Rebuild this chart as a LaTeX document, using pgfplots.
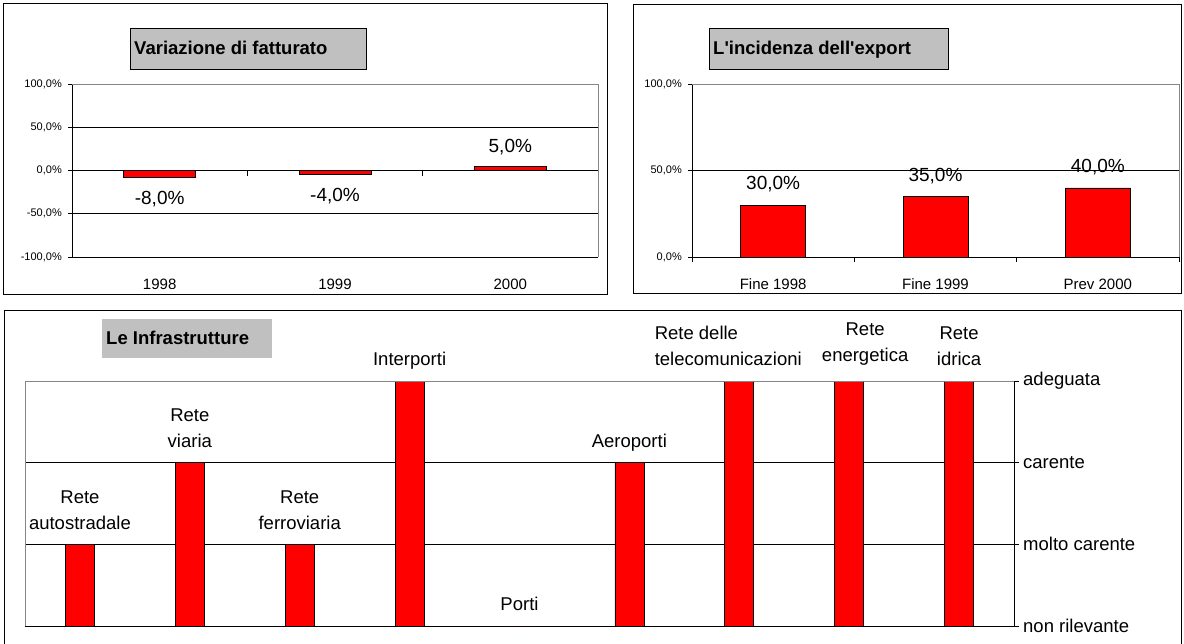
\documentclass[border=0pt]{standalone}
\usepackage{pgfplots}
\pgfplotsset{compat=1.18}
\usepackage{fontspec}
\setmainfont{Liberation Sans}
\definecolor{tgray}{RGB}{192,192,192}
\definecolor{bgray}{RGB}{134,134,134}
\newcommand\fs[1]{\fontsize{#1}{26}\selectfont}
\protected\def\lA{\begin{tabular}[b]{@{}c@{}}Rete\\autostradale\end{tabular}}
\protected\def\lB{\begin{tabular}[b]{@{}c@{}}Rete\\viaria\end{tabular}}
\protected\def\lC{\begin{tabular}[b]{@{}c@{}}Rete\\ferroviaria\end{tabular}}
\protected\def\lD{Interporti}
\protected\def\lE{Porti}
\protected\def\lF{Aeroporti}
\protected\def\lG{\begin{tabular}[b]{@{}l@{}}Rete delle\\telecomunicazioni\end{tabular}\hspace*{22pt}}
\protected\def\lH{\hspace*{32pt}\raisebox{4pt}{\begin{tabular}[b]{@{}c@{}}Rete\\energetica\end{tabular}}}
\protected\def\lI{\begin{tabular}[b]{@{}c@{}}Rete\\idrica\end{tabular}}
\pgfplotsset{
  common/.style={scale only axis, anchor=north west, clip=false, enlargelimits=false,
    ybar, bar shift=0pt,
    axis line style={black, line width=0.8pt},
    ymajorgrids, grid style={black, line width=0.8pt},
    tick style={black, line width=0.8pt},
  },
}
\begin{document}
\begin{tikzpicture}[x=1pt,y=1pt]
\useasboundingbox (0,0) rectangle (1184,-643);
% panel frames
\draw[line width=1pt] (3,-3) rectangle (607,-294);
\draw[line width=1pt] (633,-4) rectangle (1181,-293);
\draw[line width=1pt] (4,-310) rectangle (1181,-700);
% titles
\draw[fill=tgray, line width=0.8pt] (130,-28) rectangle (366,-69);
\node[anchor=base west, inner sep=0pt, font=\bfseries\fs{18.5}] at (134,-54) {Variazione di fatturato};
\draw[fill=tgray, line width=0.8pt] (709,-28) rectangle (948,-69);
\node[anchor=base west, inner sep=0pt, font=\bfseries\fs{18.5}] at (713,-54) {L\textquotesingle incidenza dell\textquotesingle export};
\fill[tgray] (102,-319) rectangle (272,-358);
\node[anchor=base west, inner sep=0pt, font=\bfseries\fs{18.5}] at (106,-344) {Le Infrastrutture};

% Panel 1
\begin{axis}[common, at={(72pt,-84pt)}, width=526pt, height=173pt,
  xmin=-0.5, xmax=2.5, ymin=-100, ymax=100,
  axis x line*=bottom, axis y line*=left,
  xtick={0,1,2}, xticklabels={1998,1999,2000}, major x tick style={draw=none},
  ytick={-100,-50,0,50,100},
  yticklabels={{-100,0\%},{-50,0\%},{0,0\%},{50,0\%},{100,0\%}},
  ytick align=outside, major tick length=4pt,
  xticklabel style={font=\fs{15}, anchor=north, inner sep=0pt, text height=11pt, text depth=0pt, yshift=-17pt},
  yticklabel style={font=\fs{11}, anchor=east, inner sep=0pt, xshift=-6pt},
  bar width=72pt]
\addplot[fill=red, draw=black, line width=0.6pt, point meta=explicit symbolic, nodes near coords,
  every node near coord/.append style={font=\fs{19}, text=black, anchor=north, inner sep=0pt, text height=14pt, text depth=0pt, yshift=-13pt}]
  coordinates {(0,-8) [{-8,0\%}] (1,-4) [{-4,0\%}]};
\addplot[fill=red, draw=black, line width=0.6pt, point meta=explicit symbolic, nodes near coords,
  every node near coord/.append style={font=\fs{19}, text=black, anchor=south, inner sep=0pt, text height=14pt, text depth=0pt, yshift=13pt}]
  coordinates {(2,5) [{5,0\%}]};
\draw[line width=0.8pt] (axis cs:0.5,0) -- ([yshift=-5pt]axis cs:0.5,0);
\draw[line width=0.8pt] (axis cs:1.5,0) -- ([yshift=-5pt]axis cs:1.5,0);
\draw[bgray, line width=0.8pt] (rel axis cs:0,1) -- (rel axis cs:1,1) -- (rel axis cs:1,0);
\end{axis}

% Panel 2
\begin{axis}[common, at={(692pt,-84pt)}, width=487pt, height=173pt,
  xmin=-0.5, xmax=2.5, ymin=0, ymax=100,
  axis x line*=bottom, axis y line*=left,
  xtick={0,1,2}, xticklabels={Fine 1998,Fine 1999,Prev 2000}, major x tick style={draw=none},
  minor xtick={-0.5,0.5,1.5,2.5}, minor tick length=5pt,
  ytick={0,50,100}, yticklabels={{0,0\%},{50,0\%},{100,0\%}},
  tick align=outside, major tick length=4pt,
  xticklabel style={font=\fs{15}, anchor=north, inner sep=0pt, text height=11pt, text depth=0pt, yshift=-17pt},
  yticklabel style={font=\fs{11}, anchor=east, inner sep=0pt, xshift=-6pt},
  bar width=65pt]
\addplot[fill=red, draw=black, line width=0.6pt, point meta=explicit symbolic, nodes near coords,
  every node near coord/.append style={font=\fs{19}, text=black, anchor=south, inner sep=0pt, text height=14pt, text depth=0pt, yshift=15pt}]
  coordinates {(0,30) [{30,0\%}] (1,35) [{35,0\%}] (2,40) [{40,0\%}]};
\draw[bgray, line width=0.8pt] (rel axis cs:0,1) -- (rel axis cs:1,1) -- (rel axis cs:1,0);
\end{axis}

% Panel 3
\begin{axis}[common, at={(25pt,-381pt)}, width=989pt, height=245pt,
  xmin=-0.5, xmax=8.5, ymin=0, ymax=3,
  axis x line*=bottom, axis y line*=right,
  xtick=\empty, minor xtick={-0.5,0.5,...,8.5}, minor tick length=6pt,
  ytick={0,1,2,3}, yticklabels={non rilevante,molto carente,carente,adeguata},
  tick align=outside, major tick length=5pt,
  yticklabel style={font=\fs{18.5}, anchor=west, inner sep=0pt, xshift=4pt},
  bar width=29pt]
\addplot[fill=red, draw=black, line width=0.6pt, point meta=explicit symbolic, nodes near coords,
  every node near coord/.append style={font=\fs{18.5}, text=black, anchor=south, inner sep=0pt, text depth=0pt, yshift=15pt}]
  coordinates {(0,1) [\lA] (1,2) [\lB] (2,1) [\lC] (3,3) [\lD] (4,0) [\lE] (5,2) [\lF] (6,3) [\lG] (7,3) [\lH] (8,3) [\lI]};
\draw[bgray, line width=0.8pt] (rel axis cs:0,0) -- (rel axis cs:0,1) -- (rel axis cs:1,1);
\end{axis}
\end{tikzpicture}
\end{document}
